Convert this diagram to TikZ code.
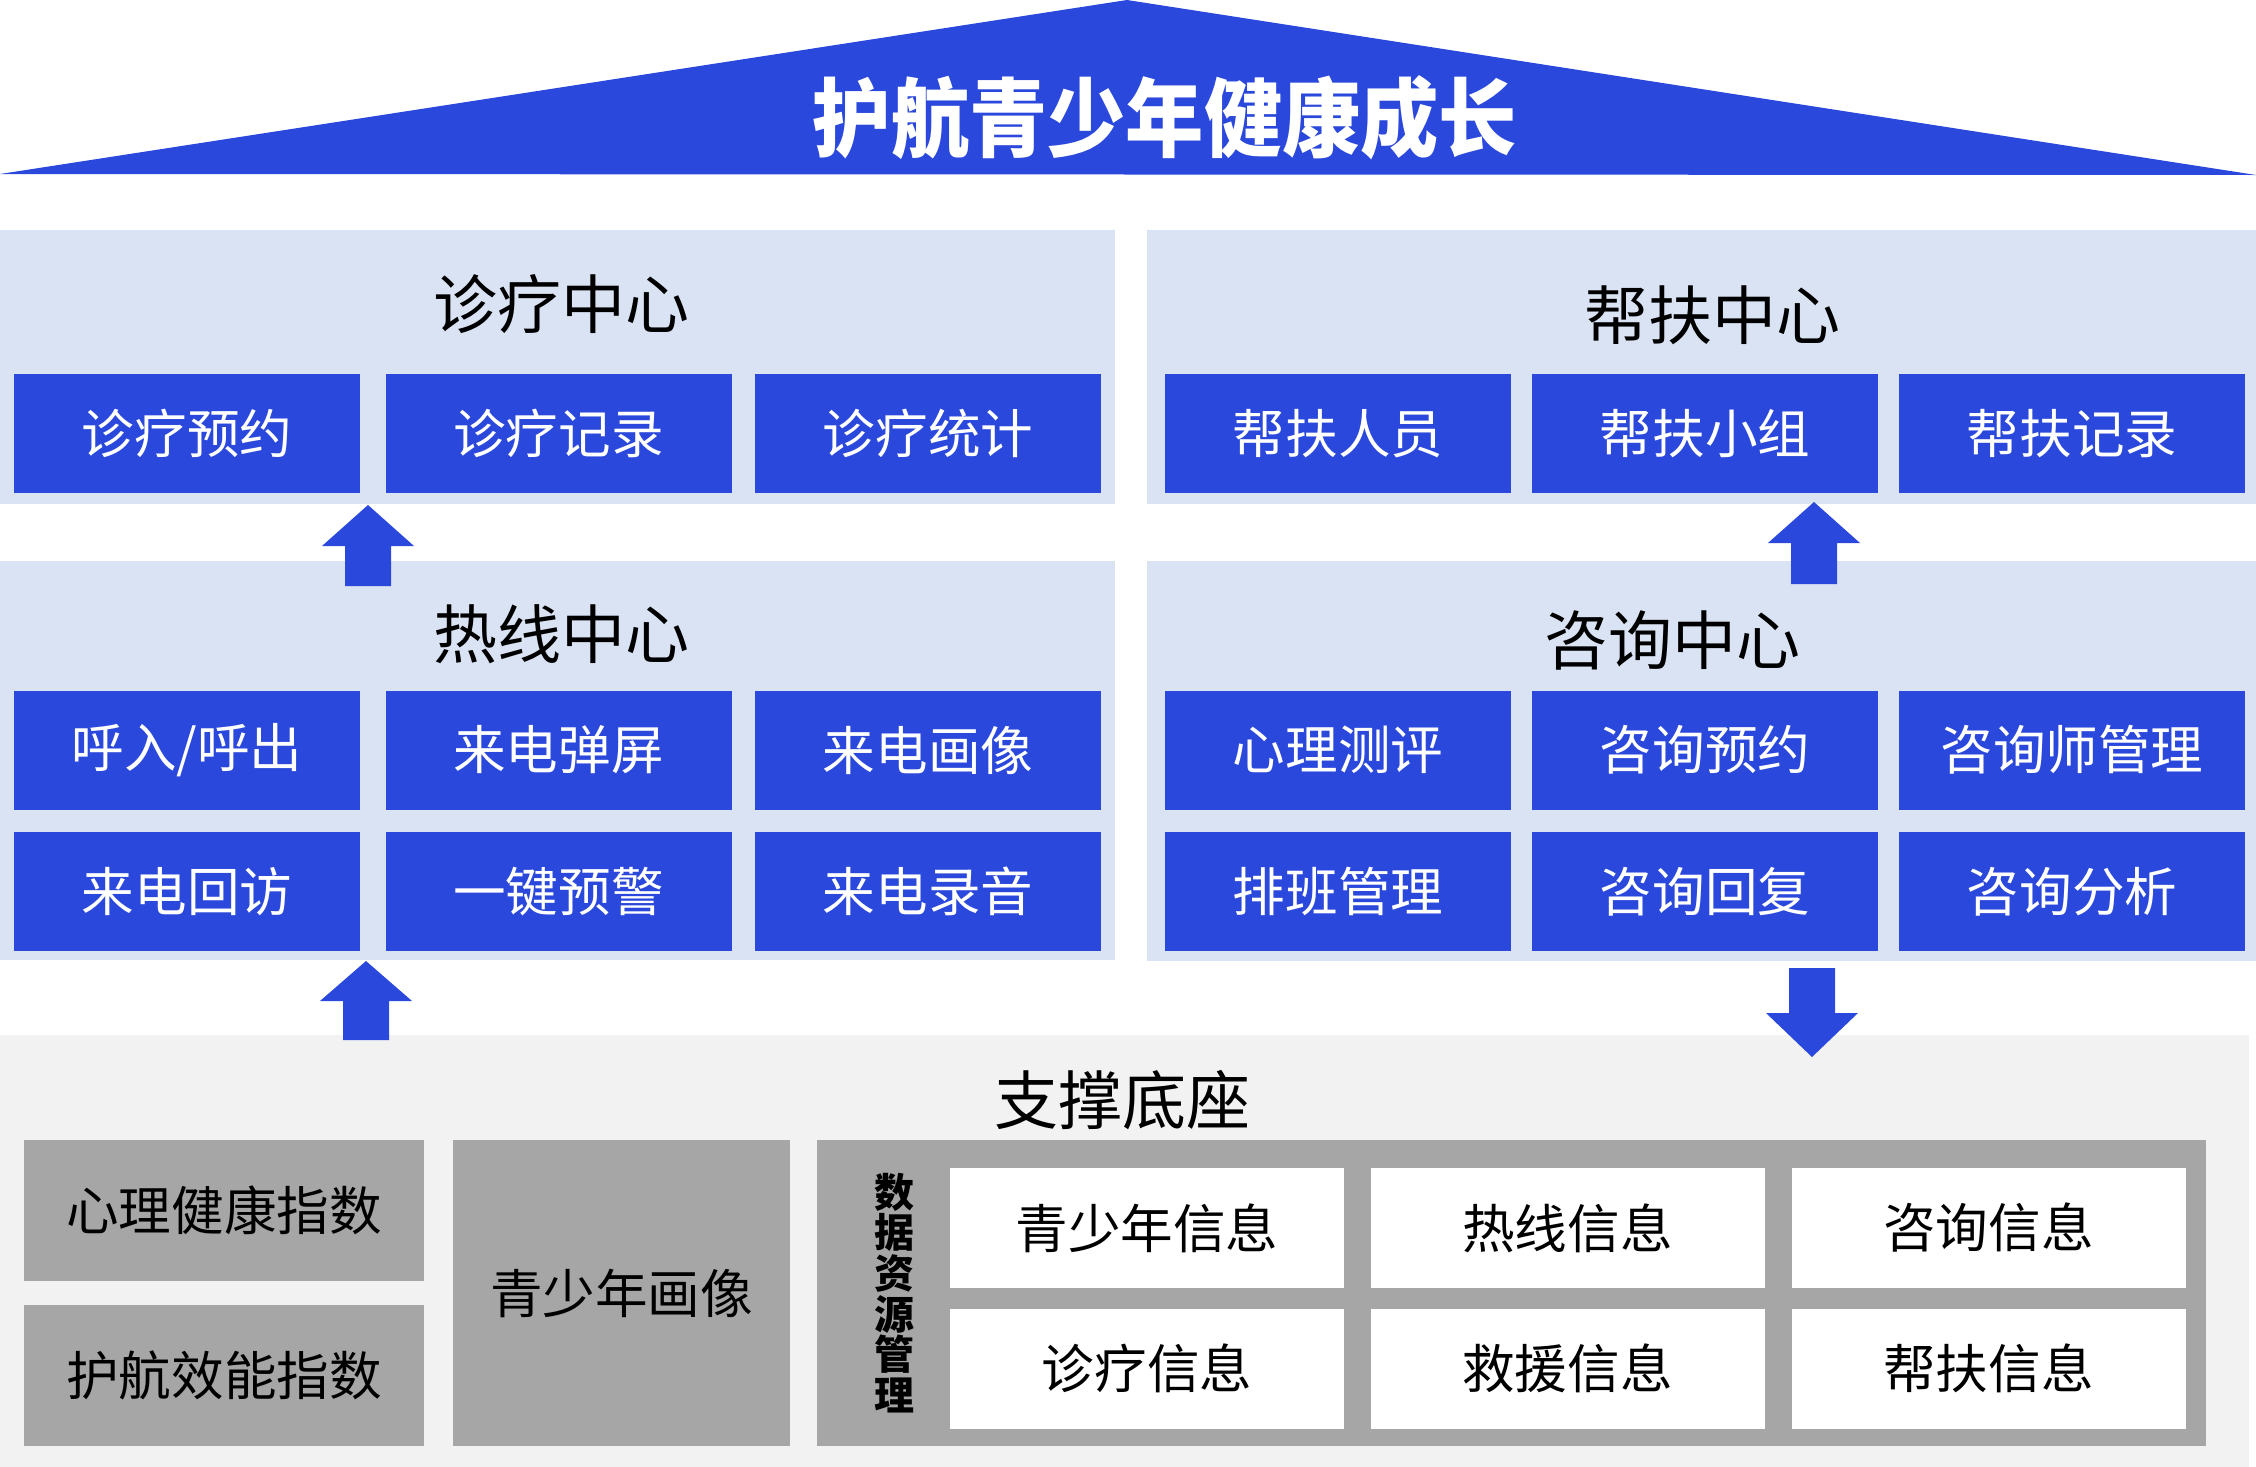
\documentclass[tikz,border=0pt]{standalone}
\usepackage{fontspec}
\newfontfamily\cjk{Noto Sans CJK SC}
\usepackage{graphicx}
\usepackage{xcolor}
\usepackage{tikz}
\definecolor{mainblue}{HTML}{2A48DB}
\definecolor{panelblue}{HTML}{DAE3F3}
\definecolor{basegray}{HTML}{F2F2F2}
\definecolor{boxgray}{HTML}{A6A6A6}
% block arrow: centre x, tip y, head base y, tail y
\newcommand{\blockarrow}[4]{%
  \fill[mainblue] (#1,#2) -- (#1+46,#3) -- (#1+23,#3) -- (#1+23,#4)
    -- (#1-23,#4) -- (#1-23,#3) -- (#1-46,#3) -- cycle;}

\begin{document}
\begin{tikzpicture}[
  x=0.5pt, y=-0.5pt,
  font=\cjk,
  panel/.style={fill=panelblue, inner sep=0pt},
  heading/.style={font=\cjk\fontsize{32}{36}\selectfont, inner sep=0pt},
  item/.style={fill=mainblue, text=white, minimum width=173pt, minimum height=59.5pt,
               inner sep=0pt, font=\cjk\fontsize{26.3}{30}\selectfont},
  graybox/.style={fill=boxgray, inner sep=0pt, font=\cjk\fontsize{26.3}{30}\selectfont},
  infobox/.style={fill=white, minimum width=197pt, minimum height=60pt,
                  inner sep=0pt, font=\cjk\fontsize{26.3}{30}\selectfont}
]
  \useasboundingbox (0,0) rectangle (2256,1467);

  % roof
  \fill[mainblue] (0,174) -- (1127,0) -- (2256,175) -- cycle;
  \node[text=white, inner sep=0pt, font=\cjk\bfseries\fontsize{43}{48}\selectfont]
    (roof) at (1165,118) {\scalebox{0.91}[1]{护航青少年健康成长}};

  % panels
  \node[panel, minimum width=557.5pt, minimum height=137pt] (diagpanel) at (557.5,367) {};
  \node[panel, minimum width=554.5pt, minimum height=137pt] (helppanel) at (1701.5,367) {};
  \node[panel, minimum width=557.5pt, minimum height=199.5pt] (hotpanel) at (557.5,760.5) {};
  \node[panel, minimum width=554.5pt, minimum height=200pt] (askpanel) at (1701.5,761) {};
  \node[fill=basegray, inner sep=0pt, minimum width=1124.5pt, minimum height=216pt] (basepanel) at (1124.5,1251) {};

  % diagnosis centre
  \node[heading] (diag) at (561,304) {诊疗中心};
  \node[item] (diag1) at (187,433.5) {诊疗预约};
  \node[item] (diag2) at (558.5,433.5) {诊疗记录};
  \node[item] (diag3) at (928,433.5) {诊疗统计};

  % help centre
  \node[heading] (help) at (1712,315) {帮扶中心};
  \node[item] (help1) at (1338,433.5) {帮扶人员};
  \node[item] (help2) at (1705,433.5) {帮扶小组};
  \node[item] (help3) at (2072,433.5) {帮扶记录};

  % hotline centre
  \node[heading] (hot) at (561,634) {热线中心};
  \node[item] (hot1) at (187,750) {呼入/呼出};
  \node[item] (hot2) at (558.5,750) {来电弹屏};
  \node[item] (hot3) at (928,750) {来电画像};
  \node[item] (hot4) at (187,891.5) {来电回访};
  \node[item] (hot5) at (558.5,891.5) {一键预警};
  \node[item] (hot6) at (928,891.5) {来电录音};

  % consulting centre
  \node[heading] (ask) at (1672,640) {咨询中心};
  \node[item] (ask1) at (1338,750) {心理测评};
  \node[item] (ask2) at (1705,750) {咨询预约};
  \node[item] (ask3) at (2072,750) {咨询师管理};
  \node[item] (ask4) at (1338,891.5) {排班管理};
  \node[item] (ask5) at (1705,891.5) {咨询回复};
  \node[item] (ask6) at (2072,891.5) {咨询分析};

  % support base
  \node[heading] (base) at (1122,1100) {支撑底座};
  \node[graybox, minimum width=200pt, minimum height=70.5pt] (index1) at (224,1210.5) {心理健康指数};
  \node[graybox, minimum width=200pt, minimum height=70.5pt] (index2) at (224,1375.5) {护航效能指数};
  \node[graybox, minimum width=168.5pt, minimum height=153pt] (portrait) at (621.5,1293) {青少年画像};
  \node[graybox, minimum width=694.5pt, minimum height=153pt] (data) at (1511.5,1293) {};
  \node[inner sep=0pt, align=center, font=\cjk\bfseries\fontsize{20}{20.3}\selectfont]
    (datalabel) at (894,1293) {数\\据\\资\\源\\管\\理};
  \node[infobox] (info1) at (1147,1228) {青少年信息};
  \node[infobox] (info2) at (1567.5,1228) {热线信息};
  \node[infobox] (info3) at (1988.5,1228) {咨询信息};
  \node[infobox] (info4) at (1147,1368.5) {诊疗信息};
  \node[infobox] (info5) at (1567.5,1368.5) {救援信息};
  \node[infobox] (info6) at (1988.5,1368.5) {帮扶信息};

  % arrows
  \blockarrow{368}{505}{546}{586}
  \blockarrow{366}{961}{1001}{1040}
  \blockarrow{1814}{502}{543}{584}
  \blockarrow{1812}{1057}{1013}{968}
\end{tikzpicture}
\end{document}
